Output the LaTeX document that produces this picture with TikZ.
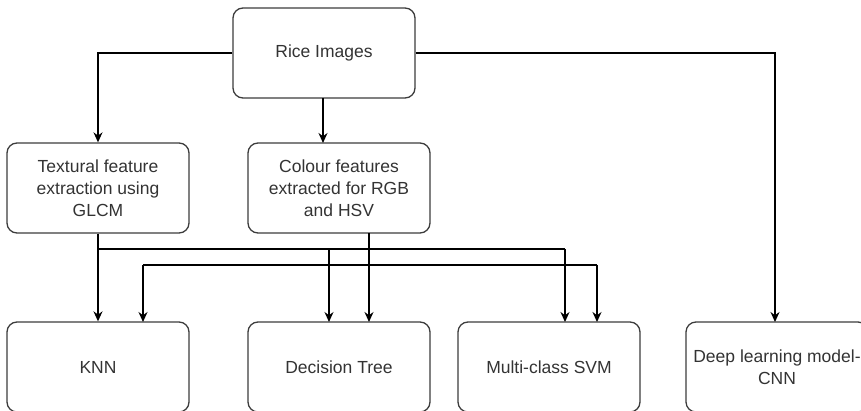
\documentclass[tikz,border=0pt]{standalone}
\usepackage{fontspec}
\setmainfont{Liberation Sans}
\usepackage{xcolor}
\usepackage{tikz}
\usetikzlibrary{arrows.meta,calc,positioning}
\definecolor{boxline}{HTML}{3C3C3C}
\definecolor{boxtext}{HTML}{333333}

\begin{document}
\begin{tikzpicture}[x=1pt, y=-1pt, >={Stealth[length=10pt,width=9pt]}]
	\tikzstyle{every node} = [rectangle, rounded corners=10pt, draw = boxline, line width=1.3pt,
		minimum width=182pt, minimum height=90pt, align=center, text=boxtext,
		font=\fontsize{17.5}{22}\selectfont]
	\tikzstyle{link} = [draw = black, line width=1.3pt]
\path[use as bounding box, clip] (0,0) rectangle (861,411);
\node (0) at (324, 53) {Rice Images};
\node (1) at (98, 188) {Textural feature\\extraction using\\GLCM};
\node (2) at (339, 188) {Colour features\\extracted for RGB\\and HSV};
\node (3) at (98, 367) {KNN};
\node (4) at (339, 367) {Decision Tree};
\node (5) at (549, 367) {Multi-class SVM};
\node (6) at (777, 367) {Deep learning model-\\CNN};

	% from the images
	\path[link, ->] (0.west) -| (1.north);
	\path[link, ->] (323, 98) -- (323, 143);
	\path[link, ->] (0.east) -| (775, 322);

	% textural features
	\path[link, ->] (1.south) -- (3.north);
	\path[link] (98, 249) -- (565, 249);
	\path[link, ->] (329, 249) -- (329, 322);
	\path[link, ->] (565, 249) -- (565, 322);

	% colour features
	\path[link, ->] (369, 233) -- (369, 322);
	\path[link] (143, 265) -- (597, 265);
	\path[link, ->] (143, 265) -- (143, 322);
	\path[link, ->] (597, 265) -- (597, 322);
	\end{tikzpicture}
\end{document}
